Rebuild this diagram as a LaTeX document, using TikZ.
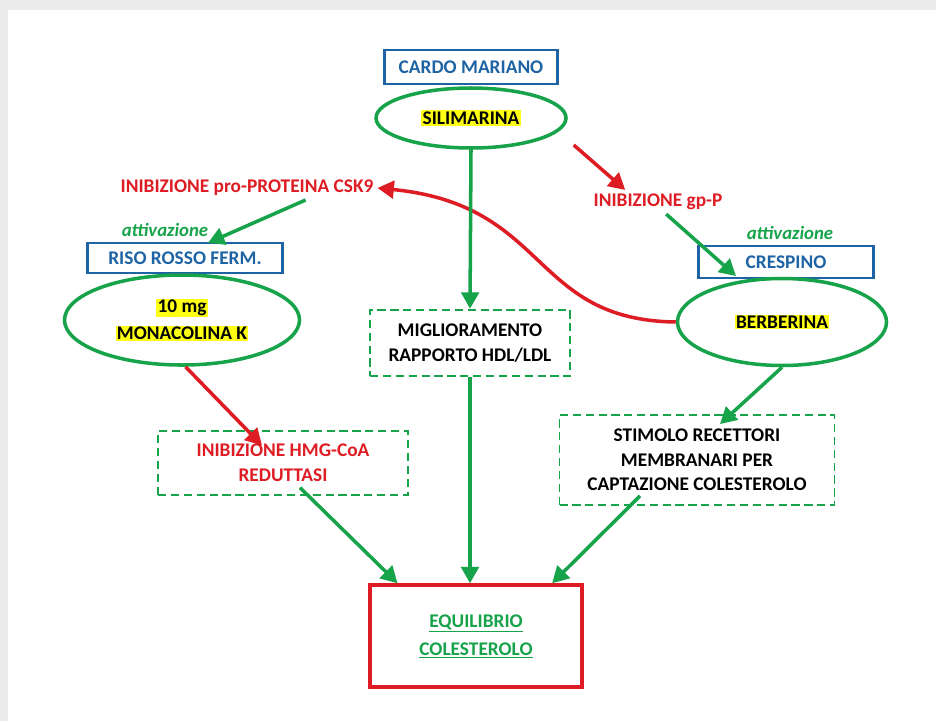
\documentclass[tikz,border=0pt]{standalone}
\usepackage{fontspec}
\setmainfont{Carlito}
\usetikzlibrary{shapes.geometric,arrows.meta}

\newcommand{\hilite}[1]{{\setlength{\fboxsep}{1pt}\colorbox{hiyellow}{#1}}}

\begin{document}
\begin{tikzpicture}[x=0.03cm, y=-0.03cm,
    every node/.style={font=\bfseries\fontsize{16.5}{21}\selectfont, align=center},
    boxblue/.style={draw=plantblue, line width=1.8pt, text=plantblue, minimum height=0.96cm},
    ellgreen/.style={draw=arrgreen, ellipse, line width=3pt},
    boxdash/.style={draw=arrgreen, line width=1.6pt, dash pattern=on 7pt off 4pt, minimum width=6cm},
    redtxt/.style={text=inhred},
    arrow/.style={line width=3pt, -{Triangle[length=14pt,width=15pt]}},
    arrowgreen/.style={arrow, draw=arrgreen},
    arrowred/.style={arrow, draw=inhred}]

  \definecolor{arrgreen}{RGB}{22,163,74}
  \definecolor{inhred}{RGB}{222,28,36}
  \definecolor{plantblue}{RGB}{30,100,165}
  \definecolor{hiyellow}{RGB}{255,255,20}

  % Background frame

  \fill[black!8] (0,0) rectangle (936,721);
  \fill[white] (8,10) rectangle (936,721);

  % Then the nodes

  \node[boxblue, minimum width=5.19cm, minimum height=1.02cm] (cardo) at (471,67) {CARDO MARIANO};
  \node[ellgreen, minimum width=5.7cm, minimum height=1.8cm] (silim) at (471,118) {\hilite{SILIMARINA}};

  \node[redtxt] (csk) at (247,188) {INIBIZIONE pro-PROTEINA CSK9};
  \node[redtxt] (gpp) at (658,202) {INIBIZIONE gp-P};

  \node[text=arrgreen, font=\bfseries\itshape\fontsize{16}{20}\selectfont] (attleft) at (165,230) {attivazione};
  \node[text=arrgreen, font=\bfseries\itshape\fontsize{16}{20}\selectfont] (attright) at (790,233) {attivazione};

  \node[boxblue, minimum width=5.85cm, minimum height=0.9cm] (riso) at (185,258) {RISO ROSSO FERM.};
  \node[boxblue, minimum width=5.25cm] (crespino) at (786,262) {CRESPINO};

  \node[ellgreen, minimum width=7.05cm, minimum height=2.7cm] (monac) at (182,320)
    {\hilite{10 mg}\\[2pt]\hilite{MONACOLINA K}};
  \node[ellgreen, minimum width=6.27cm, minimum height=2.61cm] (berb) at (782,322) {\hilite{BERBERINA}};

  \node[boxdash, minimum width=6cm, minimum height=2cm] (migl) at (470,343)
    {MIGLIORAMENTO\\RAPPORTO HDL/LDL};
  \node[boxdash, redtxt, minimum width=7.5cm, minimum height=1.9cm] (hmg) at (283,463)
    {INIBIZIONE HMG-CoA\\REDUTTASI};
  \node[boxdash, minimum width=8.25cm, minimum height=2.7cm] (stimolo) at (697,460)
    {STIMOLO RECETTORI\\MEMBRANARI PER\\CAPTAZIONE COLESTEROLO};

  \node[draw=inhred, line width=3pt, minimum width=6.36cm, minimum height=3.06cm, text=arrgreen] (equil) at (476,636)
    {\underline{EQUILIBRIO}\\[3pt]\underline{COLESTEROLO}};

  % Draw the arrows

  \draw[arrowred] ([shift={(6,27)}]silim.east) -- ([xshift=-28]gpp.north);
  \draw[arrowgreen] ([xshift=50]csk.south) -- ([shift={(23,1)}]riso.north);
  \draw[arrowgreen] ([xshift=7]gpp.south) -- ([shift={(-50,-3)}]crespino.south);
  \draw[arrowred] (berb.west) .. controls (530,320) and (550,205) .. (csk.east);

  \draw[arrowgreen] (silim.south) -- (migl.north);
  \draw[arrowgreen] (migl.south) -- (migl.south |- equil.north);

  \draw[arrowred] ([xshift=3]monac.south) -- ([shift={(-21,15)}]hmg.north);
  \draw[arrowgreen] ([shift={(17,-8)}]hmg.south) -- ([xshift=25]equil.north west);

  \draw[arrowgreen] (berb.south) -- ([shift={(23,10)}]stimolo.north);
  \draw[arrowgreen] ([shift={(-57,-10)}]stimolo.south) -- ([xshift=-27]equil.north east);
\end{tikzpicture}
\end{document}
